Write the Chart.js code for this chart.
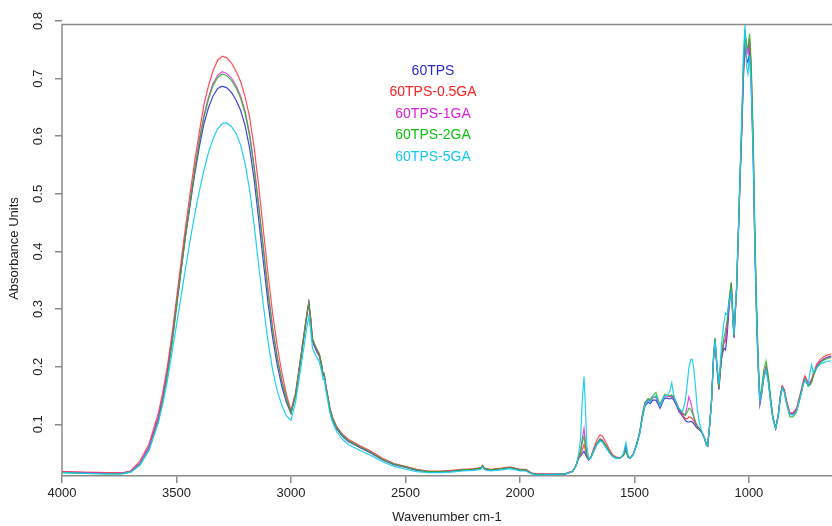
<!DOCTYPE html>
<html>
<head>
<meta charset="utf-8">
<script src="https://cdn.jsdelivr.net/npm/chart.js@4.4.1/dist/chart.umd.min.js"></script>
<style>
  html, body { margin: 0; padding: 0; background: #fff; }
  #wrap { width: 832px; height: 526px; position: relative; }
</style>
</head>
<body>
<div id="wrap"><canvas id="myChart"></canvas></div>
<script>
// wavenumbers (cm-1), shared by all spectra
var wavenumbers = [
    4000, 3900, 3800, 3740, 3700, 3660, 3620, 3580, 3560, 3540,
    3520, 3500, 3480, 3460, 3440, 3420, 3400, 3380, 3360, 3340,
    3320, 3300, 3280, 3260, 3240, 3220, 3200, 3180, 3160, 3140,
    3120, 3100, 3080, 3060, 3040, 3020, 3000, 2980, 2960, 2940,
    2930, 2922, 2915, 2906, 2890, 2876, 2866, 2860, 2855, 2848,
    2840, 2830, 2818, 2800, 2775, 2750, 2700, 2650, 2600, 2550,
    2500, 2450, 2400, 2350, 2300, 2250, 2200, 2170, 2163, 2155,
    2130, 2080, 2044, 2020, 2000, 1975, 1950, 1927, 1850, 1800,
    1770, 1755, 1745, 1735, 1728, 1720, 1714, 1708, 1700, 1690,
    1680, 1665, 1650, 1640, 1625, 1610, 1595, 1578, 1560, 1548,
    1537, 1528, 1519, 1505, 1490, 1476, 1465, 1454, 1440, 1430,
    1420, 1406, 1395, 1388, 1375, 1367, 1355, 1345, 1337, 1328,
    1318, 1305, 1290, 1278, 1268, 1262, 1254, 1247, 1240, 1232,
    1225, 1215, 1206, 1195, 1185, 1180, 1172, 1163, 1155, 1148,
    1140, 1131, 1125, 1119, 1110, 1102, 1095, 1087, 1077, 1070,
    1065, 1060, 1054, 1045, 1039, 1030, 1024, 1017, 1010, 1004,
    997, 990, 981, 975, 968, 960, 952, 945, 935, 925,
    915, 905, 895, 883, 872, 862, 854, 845, 835, 821,
    808, 792, 775, 762, 755, 741, 733, 726, 719, 704,
    690, 675, 660, 640
];

var tps = [
    .017,.016,.015,.015,.018,.032,.060,.110,.146,.190,
    .243,.306,.368,.428,.482,.535,.582,.622,.650,.670,
    .683,.687,.684,.676,.663,.645,.618,.578,.522,.452,
    .380,.310,.250,.203,.166,.138,.119,.150,.205,.262,
    .290,.310,.285,.243,.228,.218,.200,.184,.186,.165,
    .148,.125,.108,.092,.079,.070,.060,.050,.038,.030,
    .025,.020,.018,.018,.019,.021,.022,.024,.028,.023,
    .021,.023,.025,.023,.021,.021,.015,.013,.013,.014,
    .018,.028,.040,.045,.049,.053,.048,.043,.038,.042,
    .052,.065,.073,.071,.062,.052,.044,.041,.042,.047,
    .062,.045,.041,.048,.065,.085,.112,.132,.138,.136,
    .142,.142,.134,.128,.140,.146,.145,.144,.146,.142,
    .134,.122,.114,.107,.104,.104,.105,.104,.101,.096,
    .093,.090,.086,.076,.064,.062,.095,.140,.210,.245,
    .200,.160,.190,.215,.232,.229,.255,.300,.340,.285,
    .250,.290,.330,.440,.518,.620,.700,.755,.735,.728,
    .745,.690,.560,.430,.310,.205,.134,.150,.180,.197,
    .175,.140,.110,.093,.115,.150,.165,.158,.138,.119,
    .118,.125,.150,.172,.180,.168,.170,.175,.185,.200,
    .208,.213,.216,.218
];

var tps05ga = [
    .018,.017,.016,.016,.019,.036,.066,.118,.155,.200,
    .255,.318,.382,.444,.502,.558,.608,.655,.688,.714,
    .732,.739,.736,.727,.713,.695,.668,.632,.578,.510,
    .435,.360,.292,.236,.190,.152,.124,.155,.210,.266,
    .294,.312,.288,.248,.233,.222,.204,.188,.189,.169,
    .152,.129,.112,.096,.083,.074,.063,.053,.041,.032,
    .027,.022,.019,.019,.020,.022,.023,.025,.029,.024,
    .022,.024,.026,.024,.022,.022,.016,.014,.014,.015,
    .019,.029,.040,.048,.055,.065,.056,.045,.039,.044,
    .056,.072,.082,.080,.069,.057,.047,.043,.042,.046,
    .055,.043,.041,.048,.066,.088,.116,.136,.142,.140,
    .146,.148,.138,.132,.144,.150,.149,.148,.150,.146,
    .138,.125,.117,.110,.110,.113,.112,.110,.106,.100,
    .096,.092,.087,.077,.065,.063,.096,.142,.212,.248,
    .205,.165,.195,.220,.240,.245,.268,.310,.345,.290,
    .252,.292,.333,.445,.522,.630,.715,.778,.755,.748,
    .770,.715,.580,.440,.315,.210,.140,.155,.186,.200,
    .178,.142,.111,.093,.116,.152,.167,.160,.140,.120,
    .120,.128,.154,.176,.184,.172,.173,.178,.188,.204,
    .212,.217,.220,.222
];

var tps1ga = [
    .017,.016,.015,.015,.018,.032,.060,.110,.146,.190,
    .243,.306,.369,.431,.488,.543,.594,.636,.668,.692,
    .706,.712,.709,.701,.688,.670,.643,.603,.546,.478,
    .405,.332,.268,.217,.176,.145,.121,.152,.207,.264,
    .292,.311,.287,.246,.230,.220,.202,.186,.187,.167,
    .150,.127,.110,.094,.081,.072,.061,.051,.039,.031,
    .026,.021,.018,.018,.019,.021,.022,.024,.028,.023,
    .021,.023,.025,.023,.021,.021,.015,.013,.013,.014,
    .018,.028,.042,.055,.075,.093,.070,.048,.039,.042,
    .053,.066,.075,.073,.063,.053,.045,.041,.042,.046,
    .055,.043,.041,.048,.066,.088,.116,.137,.143,.141,
    .147,.148,.138,.132,.144,.150,.149,.148,.150,.146,
    .138,.126,.118,.116,.135,.148,.138,.125,.112,.102,
    .096,.092,.087,.077,.065,.063,.096,.142,.212,.248,
    .203,.162,.192,.218,.240,.250,.270,.310,.343,.288,
    .252,.292,.333,.445,.522,.630,.712,.772,.748,.743,
    .765,.710,.578,.440,.315,.210,.140,.153,.184,.199,
    .177,.141,.110,.093,.115,.150,.165,.158,.138,.118,
    .118,.125,.150,.172,.180,.168,.170,.175,.185,.200,
    .208,.213,.216,.218
];

var tps2ga = [
    .016,.015,.014,.014,.017,.029,.055,.104,.140,.184,
    .238,.302,.366,.428,.485,.540,.591,.633,.664,.688,
    .702,.708,.705,.697,.684,.666,.639,.599,.541,.474,
    .401,.329,.265,.215,.175,.144,.120,.151,.206,.263,
    .291,.311,.288,.248,.233,.222,.203,.186,.187,.167,
    .150,.127,.110,.094,.081,.072,.061,.051,.039,.031,
    .026,.021,.018,.018,.019,.021,.022,.024,.028,.023,
    .021,.023,.025,.023,.021,.021,.015,.013,.013,.014,
    .018,.028,.042,.052,.068,.079,.063,.046,.039,.042,
    .052,.066,.074,.072,.063,.053,.045,.041,.042,.046,
    .055,.043,.041,.048,.066,.088,.117,.138,.145,.143,
    .150,.155,.142,.135,.146,.152,.150,.149,.151,.147,
    .139,.127,.120,.116,.122,.128,.126,.120,.112,.103,
    .097,.092,.087,.077,.065,.063,.096,.143,.214,.250,
    .205,.163,.195,.222,.248,.264,.280,.315,.347,.290,
    .253,.293,.335,.448,.525,.635,.720,.785,.760,.752,
    .778,.730,.600,.465,.335,.225,.148,.160,.194,.210,
    .185,.146,.113,.094,.114,.149,.164,.156,.134,.113,
    .113,.121,.148,.170,.178,.166,.168,.173,.183,.198,
    .206,.211,.214,.216
];

var tps5ga = [
    .016,.015,.014,.014,.017,.030,.056,.102,.135,.175,
    .224,.272,.322,.372,.420,.465,.505,.541,.572,.596,
    .613,.622,.623,.617,.605,.585,.552,.505,.443,.373,
    .305,.243,.194,.158,.133,.115,.107,.138,.190,.243,
    .270,.287,.268,.232,.218,.208,.192,.178,.180,.160,
    .143,.120,.103,.087,.074,.065,.055,.046,.035,.027,
    .022,.018,.016,.016,.017,.019,.020,.022,.026,.021,
    .019,.021,.023,.021,.019,.019,.014,.012,.013,.014,
    .018,.028,.045,.075,.140,.183,.130,.065,.040,.042,
    .051,.064,.071,.069,.060,.051,.044,.041,.042,.049,
    .068,.046,.041,.047,.064,.085,.112,.134,.141,.139,
    .146,.150,.139,.131,.143,.150,.150,.158,.172,.150,
    .138,.127,.122,.140,.175,.198,.212,.213,.195,.160,
    .125,.100,.088,.077,.065,.063,.096,.140,.210,.245,
    .205,.170,.205,.240,.275,.293,.290,.310,.330,.285,
    .255,.295,.335,.450,.530,.650,.740,.794,.720,.708,
    .740,.690,.560,.430,.305,.205,.140,.153,.182,.195,
    .172,.137,.108,.092,.113,.148,.163,.155,.135,.117,
    .116,.123,.148,.170,.178,.168,.190,.203,.190,.198,
    .204,.207,.209,.210
];

var seriesNames = ['60TPS', '60TPS-0.5GA', '60TPS-1GA', '60TPS-2GA', '60TPS-5GA'];
var seriesValues = [tps, tps05ga, tps1ga, tps2ga, tps5ga];
var lineColors = ['rgba(45,45,215,0.9)', 'rgba(255,50,50,0.85)', 'rgba(225,40,225,0.85)', 'rgba(30,185,30,0.85)', 'rgba(20,205,240,0.95)'];
var textColors = ['#2a2ad2', '#ff2020', '#e020e0', '#10c010', '#10c8f0'];

var xTicks = [4000, 3500, 3000, 2500, 2000, 1500, 1000];
var yTicks = [0.1, 0.2, 0.3, 0.4, 0.5, 0.6, 0.7, 0.8];

var axisColor = '#8a8a8a';
var fontFamily = '"Liberation Sans", Arial, sans-serif';

function toPoints(values) {
    return wavenumbers.map(function (w, i) { return { x: w, y: values[i] }; });
}

// draw blue last so it sits on top, like the original
var datasets = [];
for (var i = seriesNames.length - 1; i >= 0; i--) {
    datasets.push({
        label: seriesNames[i],
        data: toPoints(seriesValues[i]),
        borderColor: lineColors[i],
        borderWidth: 1.2,
        pointRadius: 0,
        tension: 0,
        fill: false
    });
}

// frame (left + top line) and the coloured name list
var framePlugin = {
    id: 'frame',
    afterDraw: function (chart) {
        var ctx = chart.ctx;
        var area = chart.chartArea;
        var y = chart.scales.y;
        var topY = y.getPixelForValue(0.794);
        ctx.save();
        ctx.strokeStyle = axisColor;
        ctx.lineWidth = 1.5;
        ctx.beginPath();
        ctx.moveTo(area.left, area.bottom);
        ctx.lineTo(area.left, topY);
        ctx.lineTo(area.right, topY);
        ctx.stroke();

        ctx.font = '14px ' + fontFamily;
        ctx.textAlign = 'center';
        ctx.textBaseline = 'middle';
        var rows = [71, 92.5, 114, 135.5, 157];
        for (var k = 0; k < seriesNames.length; k++) {
            ctx.fillStyle = textColors[k];
            ctx.fillText(seriesNames[k], 433, rows[k]);
        }
        ctx.restore();
    }
};

var ctx = document.getElementById('myChart').getContext('2d');
var myChart = new Chart(ctx, {
    type: 'line',
    data: { datasets: datasets },
    options: {
        responsive: true,
        maintainAspectRatio: false,
        animation: false,
        layout: { padding: { top: 21, right: 0, bottom: 0, left: 0 } },
        plugins: {
            legend: { display: false },
            tooltip: { enabled: false }
        },
        scales: {
            x: {
                type: 'linear',
                reverse: true,
                min: 637,
                max: 4000,
                afterBuildTicks: function (scale) {
                    scale.ticks = xTicks.map(function (v) { return { value: v }; });
                },
                afterFit: function (scale) { scale.height = 50; },
                grid: { display: true, drawOnChartArea: false, drawTicks: true, tickLength: 7, color: axisColor, lineWidth: 1.5 },
                border: { display: true, color: axisColor, width: 1.5 },
                ticks: {
                    color: '#222', font: { family: fontFamily, size: 13 }, padding: 3, autoSkip: false, maxRotation: 0,
                    callback: function (v) { return String(v); }
                },
                title: { display: true, text: 'Wavenumber cm-1', color: '#222', font: { family: fontFamily, size: 13 }, padding: { top: 0, bottom: 1 } }
            },
            y: {
                type: 'linear',
                min: 0.0103,
                max: 0.8,
                afterBuildTicks: function (scale) {
                    scale.ticks = yTicks.map(function (v) { return { value: v }; });
                },
                afterFit: function (scale) { scale.width = 62; },
                grid: { display: true, drawOnChartArea: false, drawTicks: true, tickLength: 7, color: axisColor, lineWidth: 1.5 },
                border: { display: false },
                ticks: {
                    color: '#222', font: { family: fontFamily, size: 13 }, padding: 8,
                    minRotation: 90, maxRotation: 90, crossAlign: 'center', autoSkip: false,
                    callback: function (v) { return v.toFixed(1); }
                },
                title: { display: true, text: 'Absorbance Units', color: '#222', font: { family: fontFamily, size: 13 }, padding: { top: 7, bottom: 0 } }
            }
        }
    },
    plugins: [framePlugin]
});
</script>
</body>
</html>
